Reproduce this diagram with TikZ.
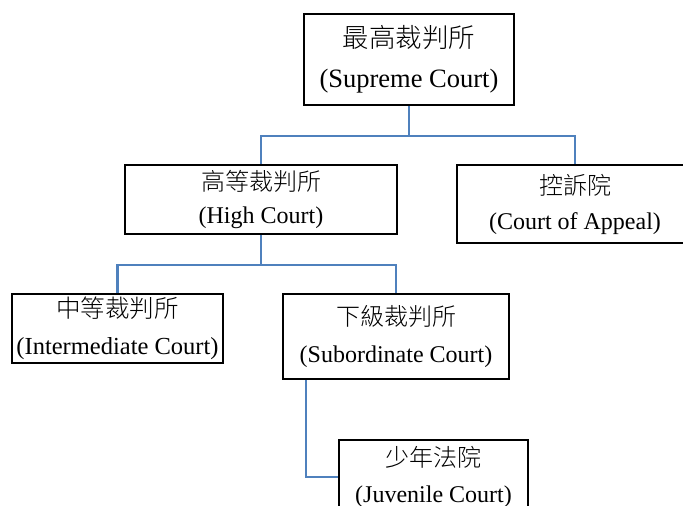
\documentclass[tikz,border=0pt]{standalone}
\usepackage{fontspec}
\setmainfont{Liberation Serif}
\newfontfamily\cjk[UprightFont={* Light}]{Noto Sans CJK TC}
\definecolor{linkblue}{RGB}{79,129,189}

\begin{document}
\begin{tikzpicture}[x=1pt, y=-1pt,
    court/.style={draw, line width=2.5pt, fill=white, align=center, inner sep=0pt},
    link/.style={draw=linkblue, line width=2.4pt}]
          \clip (0,0) rectangle (683,506);
          \node[court, minimum width=210pt, minimum height=91pt, font=\fontsize{26.5}{40}\selectfont](supreme) at (409,59.5)
            {{\cjk 最高裁判所}\\(Supreme Court)};
          \node[court, minimum width=272pt, minimum height=69pt, font=\fontsize{24}{33}\selectfont](high) at (261,199.5)
            {{\cjk 高等裁判所}\\(High Court)};
          \node[court, minimum width=236pt, minimum height=78pt, font=\fontsize{24}{35}\selectfont](appeal) at (575,204)
            {{\cjk 控訴院}\\(Court of Appeal)};
          \node[court, minimum width=211pt, minimum height=69pt, font=\fontsize{24.5}{37}\selectfont](inter) at (117.5,328.5)
            {{\cjk 中等裁判所}\\(Intermediate Court)};
          \node[court, minimum width=226pt, minimum height=85pt, font=\fontsize{24}{37}\selectfont](sub) at (396,336.5)
            {{\cjk 下級裁判所}\\(Subordinate Court)};
          \node[court, minimum width=189pt, minimum height=74pt, font=\fontsize{24}{36}\selectfont](juv) at (433.5,477)
            {{\cjk 少年法院}\\(Juvenile Court)};
          \path[link]
            (supreme.south) -- ++(0,30) -| (high.north)
            (supreme.south) -- ++(0,30) -| (appeal.north)
            (high.south) -- ++(0,30) -| (inter.north)
            (high.south) -- ++(0,30) -| (sub.north)
            ([xshift=-90pt]sub.south) |- (juv.west);
\end{tikzpicture}
\end{document}
